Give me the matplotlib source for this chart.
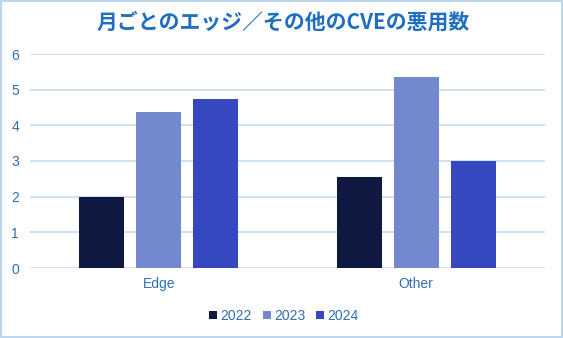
import matplotlib
matplotlib.use("Agg")
import matplotlib.pyplot as plt
from matplotlib.patches import Rectangle

categories = ["Edge", "Other"]
years = ["2022", "2023", "2024"]
values_2022 = [2.0, 2.55]
values_2023 = [4.37, 5.36]
values_2024 = [4.75, 3.0]
y_ticks = [0, 1, 2, 3, 4, 5, 6]

series = [values_2022, values_2023, values_2024]
colors = ["#101941", "#7389cf", "#3548bf"]
text_blue = "#2e6fb3"
grid_blue = "#c5dcf0"

plt.rcParams['font.family'] = ['Liberation Sans', 'Noto Sans CJK JP', 'DejaVu Sans']

W, H = 563, 338
fig = plt.figure(figsize=(W / 100, H / 100), dpi=100)
ax = fig.add_axes([30 / W, 1 - 268 / H, 515 / W, 214 / H])

width = 0.175
step = 0.221
x = list(range(len(categories)))
for i, (vals, col, yr) in enumerate(zip(series, colors, years)):
    pos = [xi + (i - 1) * step for xi in x]
    ax.bar(pos, vals, width=width, color=col, label=yr, zorder=3)

ax.set_xlim(-0.5, len(categories) - 0.5)
ax.set_ylim(0, 6)
ax.set_yticks(y_ticks)
ax.set_yticklabels([str(t) for t in y_ticks])
ax.set_xticks(x)
ax.set_xticklabels(categories)
ax.tick_params(axis='both', length=0, colors=text_blue, labelsize=10)
ax.tick_params(axis='y', pad=8)
ax.tick_params(axis='x', pad=14.5)
for lbl in ax.get_xticklabels():
    lbl.set_verticalalignment('baseline')
ax.grid(axis='y', color=grid_blue, linewidth=1.2, zorder=0)
for s in ax.spines.values():
    s.set_visible(False)

fig.text(283 / W, 1 - 22 / H, "月ごとのエッジ／その他のCVEの悪用数",
         ha='center', va='center', fontsize=15, fontweight='bold',
         color="#1f6fc0", family=['Noto Sans CJK JP', 'DejaVu Sans'])

leg = fig.legend(loc='center', bbox_to_anchor=(284 / W, 1 - 316 / H), ncol=3,
                 frameon=False, fontsize=10, handlelength=0.55, handleheight=0.55,
                 handletextpad=0.25, columnspacing=0.8)
for t in leg.get_texts():
    t.set_color(text_blue)

fig.patches.append(Rectangle((0.75 / W, 0.75 / H), 1 - 2 / W, 1 - 2 / H,
                             transform=fig.transFigure, fill=False,
                             edgecolor="#bcd6ee", linewidth=1.5))

fig.savefig("out.png", dpi=100)
